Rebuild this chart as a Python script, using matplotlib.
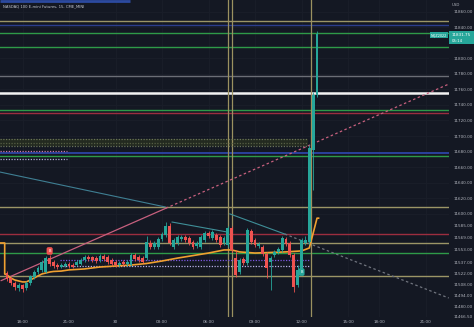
import matplotlib
matplotlib.use("Agg")
import matplotlib.pyplot as plt
from matplotlib.patches import Rectangle

# ---------------- data ----------------
title = "NASDAQ 100 E-mini Futures, 15, CME_MINI"
time_ticks = [0, 12, 24, 36, 48, 60, 72, 84, 92, 104]
time_labels = ["18:00", "21:00", "30", "03:00", "06:00", "09:00", "12:00", "15:00", "18:00", "21:00"]
price_ticks = [11860, 11840, 11800, 11780, 11760, 11740, 11720, 11700, 11680, 11660,
               11640, 11620, 11600, 11585, 11569, 11553, 11537, 11522, 11508, 11494,
               11480, 11466.5]
last_price = 11831.75
countdown = "05:14"
symbol = "NQZ2022"

first_bar = -4
opens = [11523.25, 11516.75, 11510.5, 11504.0, 11507.75, 11504.0, 11510.5, 11518.0, 11524.5, 11527.25,
         11524.5, 11542.5, 11537.5, 11533.5, 11531.0, 11532.25, 11535.0, 11533.5, 11533.5, 11535.0,
         11540.0, 11544.0, 11544.0, 11542.5, 11540.0, 11545.25, 11544.0, 11540.0, 11537.5, 11533.5,
         11537.5, 11535.0, 11533.5, 11546.5, 11544.0, 11542.5, 11542.5, 11562.0, 11556.75, 11556.75,
         11567.0, 11572.25, 11584.0, 11556.75, 11562.0, 11567.0, 11569.75, 11568.5, 11563.25, 11558.0,
         11556.75, 11565.75, 11575.0, 11568.5, 11572.25, 11569.75, 11562.0, 11559.5, 11581.25, 11542.5,
         11524.5, 11541.5, 11536.25, 11577.5, 11565.75, 11558.0, 11556.75, 11547.75, 11537.5, 11546.5,
         11550.5, 11553.0, 11567.0, 11562.0, 11546.5, 11507.75, 11523.25, 11562.0, 11563.25, 11682.0,
         11752.75]
highs = [11526.0, 11518.0, 11513.0, 11510.5, 11509.0, 11513.0, 11520.75, 11527.25, 11532.25, 11540.0,
         11545.25, 11546.5, 11540.0, 11536.25, 11536.25, 11537.5, 11537.5, 11536.25, 11540.0, 11542.5,
         11546.5, 11546.5, 11545.25, 11545.25, 11547.75, 11547.75, 11546.5, 11542.5, 11540.0, 11538.75,
         11540.0, 11540.0, 11549.0, 11549.0, 11546.5, 11545.25, 11571.0, 11565.75, 11564.5, 11569.75,
         11576.25, 11589.0, 11587.75, 11568.5, 11572.25, 11572.25, 11572.25, 11571.0, 11565.75, 11564.5,
         11572.25, 11577.5, 11577.5, 11578.75, 11575.0, 11572.25, 11571.0, 11584.0, 11584.0, 11553.0,
         11542.5, 11544.0, 11581.25, 11580.0, 11568.5, 11563.25, 11559.5, 11550.5, 11545.25, 11553.0,
         11556.75, 11571.0, 11569.75, 11564.5, 11549.0, 11533.5, 11568.5, 11571.0, 11688.5, 11756.75,
         11835.5]
lows = [11513.0, 11507.75, 11501.25, 11500.0, 11498.75, 11501.25, 11507.75, 11515.5, 11522.0, 11524.5,
        11523.25, 11532.25, 11529.75, 11528.5, 11529.75, 11531.0, 11529.75, 11529.75, 11532.25, 11533.5,
        11537.5, 11538.75, 11537.5, 11536.25, 11537.5, 11538.75, 11535.0, 11532.25, 11531.0, 11531.0,
        11532.25, 11532.25, 11532.25, 11538.75, 11537.5, 11536.25, 11540.0, 11554.25, 11554.25, 11554.25,
        11564.5, 11569.75, 11559.5, 11554.25, 11559.5, 11564.5, 11563.25, 11559.5, 11554.25, 11555.5,
        11554.25, 11563.25, 11568.5, 11565.75, 11563.25, 11556.75, 11559.5, 11556.75, 11550.5, 11518.0,
        11522.0, 11533.5, 11533.5, 11560.75, 11556.75, 11555.5, 11545.25, 11516.75, 11501.25, 11544.0,
        11547.75, 11550.5, 11558.0, 11544.0, 11498.75, 11505.25, 11520.75, 11559.5, 11560.75, 11630.5,
        11750.25]
closes = [11515.5, 11510.5, 11505.25, 11507.75, 11502.5, 11510.5, 11519.5, 11524.5, 11529.75, 11537.5,
          11542.5, 11535.0, 11532.25, 11531.0, 11533.5, 11535.0, 11532.25, 11531.0, 11537.5, 11540.0,
          11544.0, 11541.5, 11540.0, 11538.75, 11545.25, 11541.5, 11537.5, 11535.0, 11533.5, 11536.25,
          11535.0, 11537.5, 11546.5, 11541.5, 11540.0, 11537.5, 11563.25, 11556.75, 11562.0, 11567.0,
          11573.5, 11584.0, 11562.0, 11565.75, 11569.75, 11569.75, 11565.75, 11562.0, 11556.75, 11562.0,
          11569.75, 11575.0, 11571.0, 11576.25, 11565.75, 11559.5, 11568.5, 11581.25, 11553.0, 11520.75,
          11540.0, 11536.25, 11578.75, 11563.25, 11559.5, 11560.75, 11547.75, 11529.75, 11542.5, 11550.5,
          11554.25, 11568.5, 11560.75, 11546.5, 11505.25, 11527.25, 11565.75, 11565.75, 11684.5, 11752.75,
          11831.75]

# orange indicator line (bar, price)
orange_bars = [-5.8, -4.6, -4.6, -4, -3, -2, -1, 0, 1, 2, 3, 4, 5, 6, 7, 8, 10, 12, 16, 20, 24, 28, 32, 36,
               40, 44, 48, 52, 54, 56, 60, 64, 68, 72, 74, 75, 76, 76.4]
orange_vals = [11562.0, 11562.0, 11522.0, 11520.75, 11516.75, 11514.25, 11513.0, 11511.75, 11511.75,
               11514.25, 11516.75, 11519.5, 11522.0, 11523.25, 11524.5, 11525.25, 11525.75, 11527.25,
               11528.5, 11531.0, 11532.25, 11533.5, 11535.5, 11538.75, 11542.5, 11545.75, 11549.0,
               11553.0, 11553.0, 11550.5, 11549.0, 11549.75, 11550.5, 11551.75, 11555.5, 11574.5,
               11594.0, 11594.0]

# full-width horizontal levels
level_prices = [11848.4, 11842.6, 11832.9, 11814.8, 11777.4, 11755.5, 11733.5, 11730.3,
                11678.1, 11674.2, 11608.4, 11573.6, 11562.0, 11549.1, 11519.4]
level_colors = ["#9b9566", "#2c3e8c", "#2e9a48", "#2e9a48", "#6b6e76", "#f2f2f2", "#2e9a48", "#9c2d3f",
                "#2f48b0", "#2e9a48", "#9b9566", "#9c2d3f", "#9b9566", "#2e9a48", "#9b9566"]
level_widths = [1.0, 1.0, 1.0, 1.0, 1.0, 1.8, 1.0, 1.0, 1.2, 1.0, 1.0, 1.0, 1.0, 1.0, 1.0]

# dotted partial levels: price, start bar, end bar, colour
dot_prices = [11696.1, 11691.6, 11687.1, 11680.7, 11670.3, 11540.0, 11532.3]
dot_start = [-5.8, -5.8, -5.8, -5.8, -5.8, 9.7, 9.7]
dot_end = [73.7, 73.7, 73.7, 11.5, 11.5, 74.2, 74.2]
dot_colors = ["#6a7458", "#565f44", "#6a7458", "#c873a8", "#b3abd9", "#7b56e0", "#b8b0e6"]
top_band_price = 11874.5
top_band_end = 27.7

# vertical session markers (bar positions)
vlines_bars = [52.9, 54.1, 74.4]

# trend lines (bar, price) anchors
pink_line_bars = [-5.5, 37, 110]
pink_line_prices = [11513.5, 11606.8, 11767.0]
teal_a_bars = [-5.8, 36.8]
teal_a_prices = [11653.5, 11608.5]
teal_b_bars = [38.6, 53.0]
teal_b_prices = [11589.0, 11576.0]
teal_c_bars = [53.5, 67.7, 110]
teal_c_prices = [11599.5, 11573.5, 11491.0]

# signal labels
sig_bars = [7, 72]
sig_prices = [11551.7, 11524.5]
sig_text = ["B", "B"]
sig_colors = ["#ef5350", "#26a69a"]

# ---------------- drawing ----------------
W, H = 474, 327
BG = "#141823"
TXT = "#b2b5be"
UP, DN = "#26a69a", "#ef5350"

fig = plt.figure(figsize=(W / 100, H / 100), dpi=100, facecolor=BG)
ax = fig.add_axes([0, 10 / H, 449 / W, 317 / H], facecolor=BG)
ax.set_xlim(-5.81, 110.06)
ax.set_ylim(11466.5, 11875.45)

# faint grid
for t in time_ticks:
    ax.axvline(t, color="#1a1e2a", lw=0.6, zorder=0)
for p in price_ticks[:13]:
    ax.axhline(p, color="#1a1e2a", lw=0.6, zorder=0)

# dotted band fill
ax.fill_between([dot_start[0], dot_end[0]], dot_prices[2], dot_prices[0], color="#232a20", zorder=1, lw=0)

for p, c, w in zip(level_prices, level_colors, level_widths):
    ax.axhline(p, color=c, lw=w, zorder=2)
ax.hlines(top_band_price, -5.81, top_band_end, color="#2c4aa0", lw=2.0, zorder=2)
for p, s, e, c in zip(dot_prices, dot_start, dot_end, dot_colors):
    ax.hlines(p, s, e, color=c, lw=0.9, linestyles=(0, (1, 1.2)), zorder=3)

for b in vlines_bars:
    ax.axvline(b, color="#9b9160", lw=0.9, zorder=2)

# trend lines
ax.plot(pink_line_bars[:2], pink_line_prices[:2], color="#c7607e", lw=0.9, zorder=3)
ax.plot(pink_line_bars[1:], pink_line_prices[1:], color="#c7607e", lw=0.9, ls=(0, (2, 2)), zorder=3)
ax.plot(teal_a_bars, teal_a_prices, color="#3f7f93", lw=0.8, zorder=3)
ax.plot(teal_b_bars, teal_b_prices, color="#3f8f98", lw=0.8, zorder=3)
ax.plot(teal_c_bars[:2], teal_c_prices[:2], color="#3f8f98", lw=0.8, zorder=3)
ax.plot(teal_c_bars[1:], teal_c_prices[1:], color="#70747e", lw=0.9, ls=(0, (2, 2)), zorder=3)

# orange indicator
ax.plot(orange_bars, orange_vals, color="#f0a030", lw=1.2, zorder=4)

# candles
xs = list(range(first_bar, first_bar + len(opens)))
for x, o, h, l, c in zip(xs, opens, highs, lows, closes):
    col = UP if c >= o else DN
    ax.vlines(x, l, h, color=col, lw=0.6, zorder=5)
    lo, hi = min(o, c), max(o, c)
    ax.bar(x, max(hi - lo, 0.8), bottom=lo, width=0.75, color=col, lw=0, zorder=6)

# signal labels
for b, p, t, c in zip(sig_bars, sig_prices, sig_text, sig_colors):
    ax.text(b, p, t, color="white", fontsize=2.6, ha="center", va="center", zorder=7,
            bbox=dict(boxstyle="round,pad=0.5", fc=c, ec="none"))

# axes styling
for s in ax.spines.values():
    s.set_visible(False)
ax.set_xticks(time_ticks)
ax.set_xticklabels(time_labels)
ax.yaxis.tick_right()
ax.set_yticks(price_ticks)
ax.set_yticklabels(["%.2f" % p for p in price_ticks])
ax.tick_params(axis="both", length=0, labelsize=3.0, labelcolor=TXT, pad=3)
ax.tick_params(axis="y", pad=3.5)
ax.tick_params(axis="x", pad=2.5)

# title and currency
fig.text(3 / W, 1 - 6 / H, title, color="#c8cbd3", fontsize=2.7, ha="left", va="center")
fig.text(452 / W, 1 - 5 / H, "USD", color=TXT, fontsize=2.8, ha="left", va="center")

# last price box
fig.patches.append(Rectangle((449 / W, 1 - 44 / H), 25 / W, 13 / H, transform=fig.transFigure,
                             fc=UP, ec="none", zorder=10))
fig.text(452 / W, 1 - 35 / H, "%.2f" % last_price, color="white", fontsize=3.0, ha="left", va="center", zorder=11)
fig.text(452 / W, 1 - 40.5 / H, countdown, color="white", fontsize=2.8, ha="left", va="center", zorder=11)
fig.patches.append(Rectangle((430 / W, 1 - 38 / H), 18 / W, 5.5 / H, transform=fig.transFigure,
                             fc=UP, ec="none", zorder=10))
fig.text(439 / W, 1 - 35.3 / H, symbol, color="white", fontsize=2.4, ha="center", va="center", zorder=11)

fig.savefig("out.png", dpi=100, facecolor=BG)
